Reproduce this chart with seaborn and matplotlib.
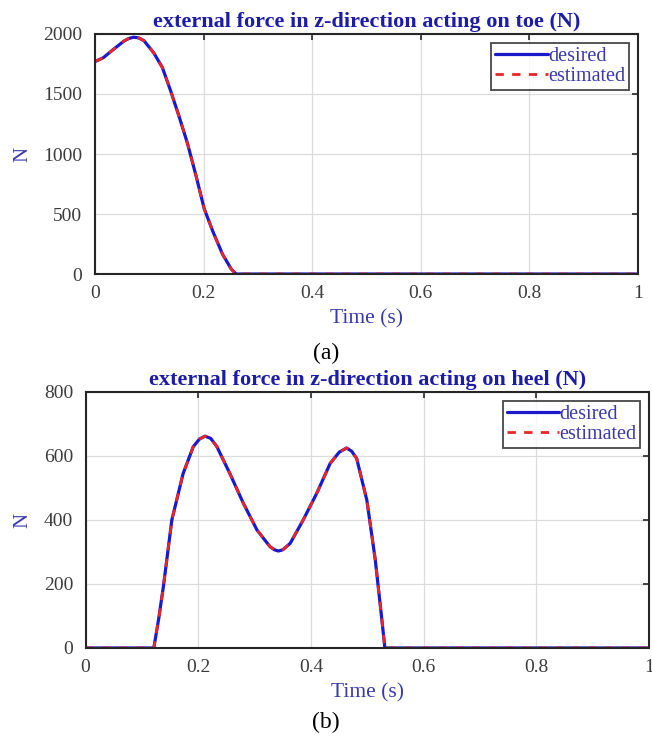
import matplotlib
matplotlib.use("Agg")
import matplotlib.pyplot as plt
import seaborn as sns
import numpy as np
import pandas as pd

# ---- data ----
t_toe = [0.0, 0.0155, 0.034, 0.053, 0.062, 0.071, 0.080, 0.090, 0.108, 0.124,
         0.139, 0.155, 0.170, 0.186, 0.201, 0.217, 0.235, 0.251, 0.260,
         0.4, 0.6, 0.8, 1.0]
f_toe_desired = [1770, 1803, 1872, 1940, 1962, 1973, 1968, 1945, 1844, 1721,
                 1530, 1311, 1093, 820, 546, 355, 164, 41, 0,
                 0, 0, 0, 0]
f_toe_estimated = [1770, 1803, 1872, 1940, 1962, 1973, 1968, 1945, 1844, 1721,
                   1530, 1311, 1093, 820, 546, 355, 164, 41, 0,
                   0, 0, 0, 0]

t_heel = [0.0, 0.121, 0.130, 0.138, 0.153, 0.173, 0.191, 0.202, 0.212, 0.222,
          0.233, 0.256, 0.280, 0.304, 0.327, 0.335, 0.342, 0.350, 0.363, 0.386,
          0.410, 0.434, 0.450, 0.463, 0.472, 0.481, 0.499, 0.514, 0.525, 0.531,
          0.6, 0.8, 1.0]
f_heel_desired = [0, 0, 95, 192, 400, 545, 629, 653, 662, 655,
                  629, 545, 452, 369, 317, 307, 303, 307, 327, 400,
                  483, 577, 612, 625, 615, 592, 462, 275, 99, 0,
                  0, 0, 0]
f_heel_estimated = [0, 0, 95, 192, 400, 545, 629, 653, 662, 655,
                    629, 545, 452, 369, 317, 307, 303, 307, 327, 400,
                    483, 577, 612, 625, 615, 592, 462, 275, 99, 0,
                    0, 0, 0]

titles = ["external force in z-direction acting on toe (N)",
          "external force in z-direction acting on heel (N)"]
captions = ["(a)", "(b)"]
x_ticks = [0, 0.2, 0.4, 0.6, 0.8, 1]
x_ticklabels = ["0", "0.2", "0.4", "0.6", "0.8", "1"]
y_ticks_toe = [0, 500, 1000, 1500, 2000]
y_ticks_heel = [0, 200, 400, 600, 800]

sns.set_theme(style="white")
plt.rcParams['font.family'] = ['Liberation Serif', 'DejaVu Serif']

title_color = "#1c1ca8"
label_color = "#3a3aaa"
tick_color = "#3c3c3c"
blue_line = "#1a1acc"
red_line = "#e8262a"

fig = plt.figure(figsize=(6.52, 7.42), dpi=100)
ax1 = fig.add_axes([0.1457, 0.6307, 0.8328, 0.3235])
ax2 = fig.add_axes([0.1313, 0.1267, 0.8644, 0.3450])

panels = [
    (ax1, t_toe, f_toe_desired, f_toe_estimated, y_ticks_toe, (0, 2000)),
    (ax2, t_heel, f_heel_desired, f_heel_estimated, y_ticks_heel, (0, 800)),
]

for i, (ax, t, fd, fe, yt, ylim) in enumerate(panels):
    df_d = pd.DataFrame({"t": t, "f": fd})
    df_e = pd.DataFrame({"t": t, "f": fe})
    sns.lineplot(data=df_d, x="t", y="f", ax=ax, color=blue_line, lw=2.3,
                 label="desired", estimator=None, sort=False)
    sns.lineplot(data=df_e, x="t", y="f", ax=ax, color=red_line, lw=2.0,
                 label="estimated", estimator=None, sort=False,
                 dashes=False, linestyle=(0, (3, 3)))
    ax.set_xlim(0, 1)
    ax.set_ylim(*ylim)
    ax.set_xticks(x_ticks)
    ax.set_xticklabels(x_ticklabels)
    ax.set_yticks(yt)
    ax.grid(True, color="#dcdcdc", lw=0.9)
    ax.tick_params(direction="in", top=True, right=True, length=4,
                   width=1.2, color="#262626", labelsize=14,
                   labelcolor=tick_color)
    ax.tick_params(axis="x", pad=8)
    ax.tick_params(axis="y", pad=9)
    for s in ax.spines.values():
        s.set_color("#262626")
        s.set_linewidth(1.5)
    ax.set_title(titles[i], fontsize=16, fontweight="bold", color=title_color,
                 pad=5)
    ax.set_xlabel("Time (s)", fontsize=15.5, color=label_color, labelpad=5)
    ax.set_ylabel("N", fontsize=15, color=label_color, labelpad=8)
    leg = ax.legend(loc="upper right", fontsize=14.5, frameon=True,
                    fancybox=False, edgecolor="#1a1a1a", handlelength=2.6,
                    handletextpad=0.0, borderpad=0.2, labelspacing=0.05,
                    borderaxespad=0.45, labelcolor=label_color)
    leg.get_frame().set_linewidth(1.3)

fig.text(0.5, 1 - 353 / 742, captions[0], ha="center", va="center",
         fontsize=17, color="black")
fig.text(0.5, 1 - 722 / 742, captions[1], ha="center", va="center",
         fontsize=17, color="black")

fig.savefig("out.png", dpi=100, facecolor="white")
